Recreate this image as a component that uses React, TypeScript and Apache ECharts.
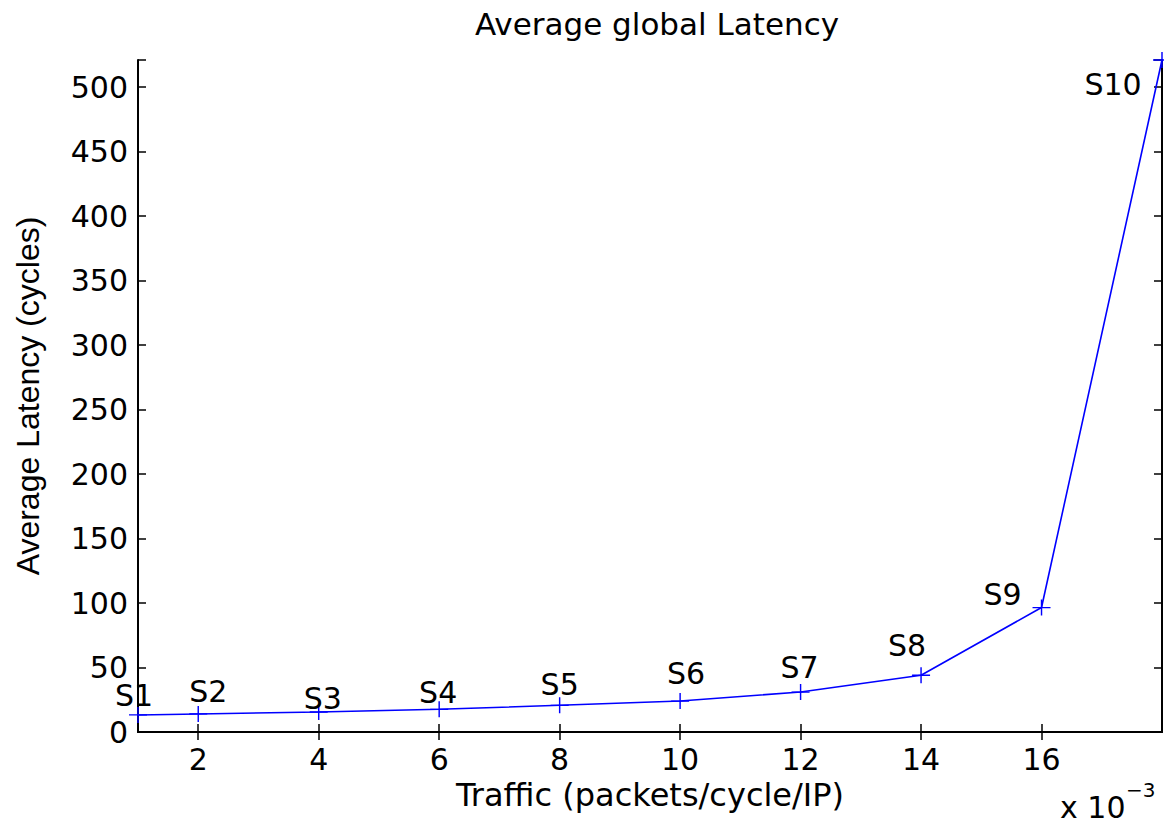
import React, { useEffect, useRef } from "react";
import * as echarts from "echarts";

const traffic = [1, 2, 4, 6, 8, 10, 12, 14, 16, 18];
const latency = [13.2, 14, 15.5, 17.6, 20.7, 24, 31, 44, 96.5, 521];
const pointNames = ["S1", "S2", "S3", "S4", "S5", "S6", "S7", "S8", "S9", "S10"];
const xTickValues = [2, 4, 6, 8, 10, 12, 14, 16];
const yMax = 521;

const labelOffsets: [number, number][] = [
  [-4, -19], [10, -22], [4, -14], [-1, -17], [0, -21],
  [6, -28], [-1, -25], [-14, -30], [-39, -13], [-49, 24],
];

const FONT = "DejaVu Sans";
const plusPath =
  "path://M-0.08,-1 L0.08,-1 L0.08,-0.08 L1,-0.08 L1,0.08 L0.08,0.08 L0.08,1 L-0.08,1 L-0.08,0.08 L-1,0.08 L-1,-0.08 L-0.08,-0.08 Z";

export default function App() {
  const ref = useRef<HTMLDivElement>(null);
  useEffect(() => {
    if (!ref.current) return;
    const chart = echarts.init(ref.current, null, { renderer: "svg" });
    const axisLine = { show: true, lineStyle: { color: "#000", width: 2 } };
    const tickStyle = { color: "#000", width: 1.5 };
    chart.setOption({
      animation: false,
      backgroundColor: "#fff",
      title: {
        text: "Average global Latency",
        left: 652,
        textAlign: "center",
        top: 3,
        textStyle: { fontFamily: FONT, fontSize: 31, fontWeight: "normal", color: "#000" },
      },
      grid: { left: 138, right: 2, top: 60, bottom: 92 },
      xAxis: [
        {
          type: "value",
          min: 1,
          max: 18,
          position: "bottom",
          axisLine,
          splitLine: { show: false },
          axisTick: { show: true, inside: true, length: 8, lineStyle: tickStyle, customValues: xTickValues },
          axisLabel: {
            customValues: xTickValues,
            fontFamily: FONT,
            fontSize: 30,
            color: "#000",
            margin: 12,
          },
          name: "Traffic (packets/cycle/IP)",
          nameLocation: "middle",
          nameGap: 44,
          nameTextStyle: { fontFamily: FONT, fontSize: 32, color: "#000" },
        },
        {
          type: "value",
          min: 1,
          max: 18,
          position: "top",
          axisLine,
          splitLine: { show: false },
          axisTick: { show: true, inside: true, length: 8, lineStyle: tickStyle, customValues: xTickValues },
          axisLabel: { show: false },
        },
      ],
      yAxis: [
        {
          type: "value",
          min: 0,
          max: yMax,
          interval: 50,
          position: "left",
          axisLine,
          splitLine: { show: false },
          axisTick: { show: true, inside: true, length: 8, lineStyle: tickStyle },
          axisLabel: {
            fontFamily: FONT,
            fontSize: 30,
            color: "#000",
            margin: 10,
            formatter: (v: number) => (v % 50 === 0 ? String(v) : ""),
          },
          name: "Average Latency (cycles)",
          nameLocation: "middle",
          nameGap: 94,
          nameTextStyle: { fontFamily: "Liberation Sans", fontSize: 32, color: "#000" },
        },
        {
          type: "value",
          min: 0,
          max: yMax,
          interval: 50,
          position: "right",
          axisLine,
          splitLine: { show: false },
          axisTick: { show: true, inside: true, length: 8, lineStyle: tickStyle },
          axisLabel: { show: false },
        },
      ],
      graphic: [
        {
          type: "text",
          left: 1060,
          top: 792,
          style: { text: "x 10", fontFamily: FONT, fontSize: 30, fill: "#000" },
        },
        {
          type: "text",
          left: 1126,
          top: 780,
          style: { text: "−3", fontFamily: FONT, fontSize: 20, fill: "#000" },
        },
      ],
      series: [
        {
          type: "line",
          data: traffic.map((x, i) => ({
            value: [x, latency[i]],
            name: pointNames[i],
            label: { offset: labelOffsets[i] },
          })),
          lineStyle: { color: "#0000ff", width: 1.6 },
          itemStyle: { color: "#0000ff" },
          symbol: plusPath,
          symbolSize: [18, 16],
          showSymbol: true,
          clip: false,
          label: {
            show: true,
            position: "inside",
            formatter: (p: any) => p.name,
            fontFamily: FONT,
            fontSize: 30,
            color: "#000",
          },
        },
      ],
    });
    return () => chart.dispose();
  }, []);
  return (
    <div
      ref={ref}
      style={{ position: "fixed", left: 0, top: 0, width: 1164, height: 824, background: "#fff" }}
    />
  );
}
